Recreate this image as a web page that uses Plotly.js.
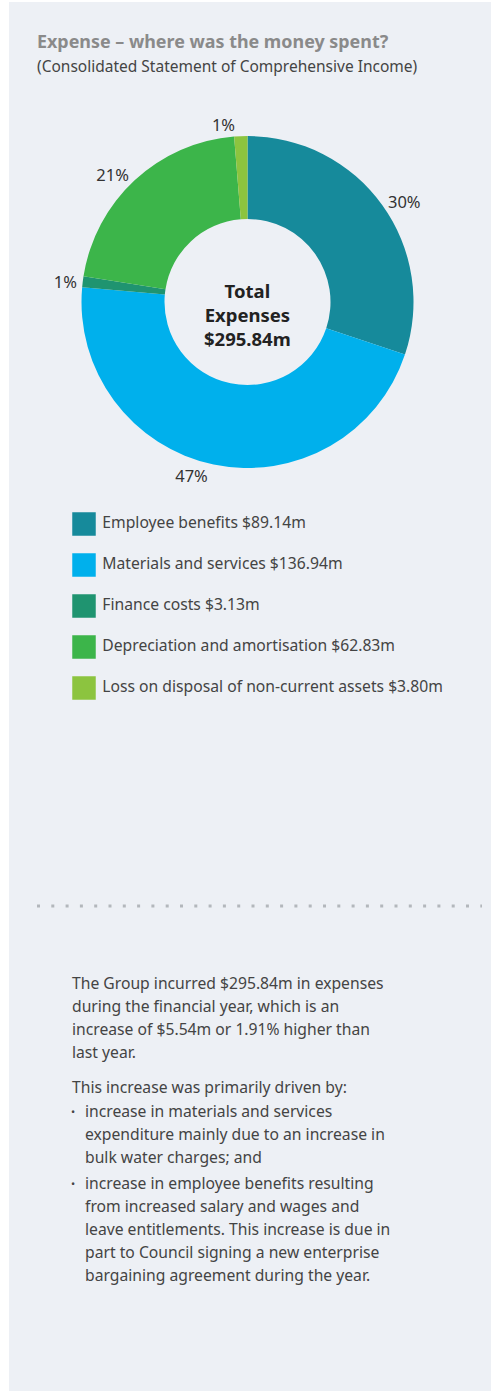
<!DOCTYPE html>
<html>
<head>
<meta charset="utf-8">
<script src="https://cdn.plot.ly/plotly-3.0.1.min.js"></script>
<style>
  html, body { margin: 0; padding: 0; background: #ffffff; }
  #chart { position: absolute; left: 9px; top: 2px; width: 482px; height: 1389px; }
</style>
</head>
<body>
<div id="chart"></div>
<script>
// ---------- data ----------
const categories = ["Employee benefits", "Materials and services", "Finance costs",
                    "Depreciation and amortisation", "Loss on disposal of non-current assets"];
const values = [89.14, 136.94, 3.13, 62.83, 3.80];
const pctLabels = ["30%", "47%", "1%", "21%", "1%"];
const colors = ["#168a9b", "#00b0ec", "#1f9470", "#3cb54a", "#8cc43f"];
const totalLabel = "$295.84m";

const titleText = "Expense – where was the money spent?";
const subtitleText = "(Consolidated Statement of Comprehensive Income)";

const paragraph1 = ["The Group incurred $295.84m in expenses",
                    "during the financial year, which is an",
                    "increase of $5.54m or 1.91% higher than",
                    "last year."];
const paragraph2 = ["This increase was primarily driven by:"];
const bullet1 = ["increase in materials and services",
                 "expenditure mainly due to an increase in",
                 "bulk water charges; and"];
const bullet2 = ["increase in employee benefits resulting",
                 "from increased salary and wages and",
                 "leave entitlements. This increase is due in",
                 "part to Council signing a new enterprise",
                 "bargaining agreement during the year."];

// ---------- geometry helpers (figure is 482 x 1389, offset 9,2 on page) ----------
const W = 482, H = 1389, OX = 9, OY = 2;
const px = x => (x - OX) / W;
const py = y => 1 - (y - OY) / H;

const FONT = "Noto Sans, Open Sans, sans-serif";
const TEXT_COL = "#444444";
const BG = "#edf0f5";
const BODY_SIZE = 15.7;

// ---------- traces ----------
const pie = {
  type: "pie",
  labels: categories,
  values: values,
  text: pctLabels,
  textinfo: "text",
  textposition: "outside",
  sort: false,
  direction: "clockwise",
  rotation: 0,
  hole: 0.5,
  marker: { colors: colors, line: { width: 0 } },
  outsidetextfont: { family: FONT, size: 16.5, color: "#333333" },
  showlegend: false,
  hoverinfo: "label+value",
  domain: { x: [px(81.5), px(413.5)], y: [py(468), py(136)] }
};

const legendTrace = {
  type: "scatter",
  mode: "markers+text",
  x: categories.map(() => 0),
  y: categories,
  text: categories.map((c, i) => "\u2009" + c + " $" + values[i].toFixed(2) + "m"),
  textposition: "middle right",
  textfont: { family: FONT, size: BODY_SIZE, color: TEXT_COL },
  marker: { symbol: "square", size: 23.5, color: colors, line: { width: 0 } },
  xaxis: "x", yaxis: "y",
  showlegend: false,
  hoverinfo: "skip",
  cliponaxis: false
};

// ---------- annotations ----------
const annotations = [];
annotations.push({
  text: subtitleText, xref: "paper", yref: "paper",
  x: px(35), y: py(66), xanchor: "left", yanchor: "middle",
  showarrow: false, font: { family: FONT, size: 15.5, color: TEXT_COL }
});
annotations.push({
  text: "<b>Total<br>Expenses<br>" + totalLabel + "</b>", xref: "paper", yref: "paper",
  x: px(247.5), y: py(314), xanchor: "center", yanchor: "middle",
  showarrow: false, font: { family: FONT, size: 18.5, color: "#222222" }
});

function addLines(lines, startY, xLeft, bullet) {
  lines.forEach((t, i) => {
    annotations.push({
      text: t, xref: "paper", yref: "paper",
      x: px(xLeft), y: py(startY + i * 23), xanchor: "left", yanchor: "middle",
      showarrow: false, font: { family: FONT, size: BODY_SIZE, color: TEXT_COL }
    });
  });
  if (bullet) {
    annotations.push({
      text: "•", xref: "paper", yref: "paper",
      x: px(69), y: py(startY), xanchor: "left", yanchor: "middle",
      showarrow: false, font: { family: FONT, size: 11, color: TEXT_COL }
    });
  }
}
addLines(paragraph1, 983, 69.5, false);
addLines(paragraph2, 1087, 69.5, false);
addLines(bullet1, 1111, 82.5, true);
addLines(bullet2, 1183, 82.5, true);

// ---------- layout ----------
const layout = {
  width: W, height: H,
  margin: { l: 0, r: 0, t: 0, b: 0, pad: 0 },
  paper_bgcolor: BG, plot_bgcolor: "rgba(0,0,0,0)",
  font: { family: FONT, color: TEXT_COL },
  title: {
    text: "<b>" + titleText + "</b>",
    x: px(37), xanchor: "left", xref: "paper",
    y: py(42), yanchor: "middle", yref: "paper",
    font: { family: FONT, size: 17.9, color: "#8a8a8a" }
  },
  xaxis: {
    domain: [px(84), px(480)], range: [0, 1],
    visible: false, fixedrange: true
  },
  yaxis: {
    domain: [py(708.5), py(503.5)], type: "category",
    categoryorder: "array", categoryarray: categories,
    range: [4.5, -0.5], visible: false, fixedrange: true
  },
  shapes: [{
    type: "line", xref: "paper", yref: "paper",
    x0: px(37), x1: px(482), y0: py(906), y1: py(906),
    line: { color: "#b3b7bc", width: 3, dash: "3px,11.3px" }
  }],
  annotations: annotations
};

Plotly.newPlot("chart", [pie, legendTrace], layout, { displayModeBar: false, staticPlot: true });
</script>
</body>
</html>
